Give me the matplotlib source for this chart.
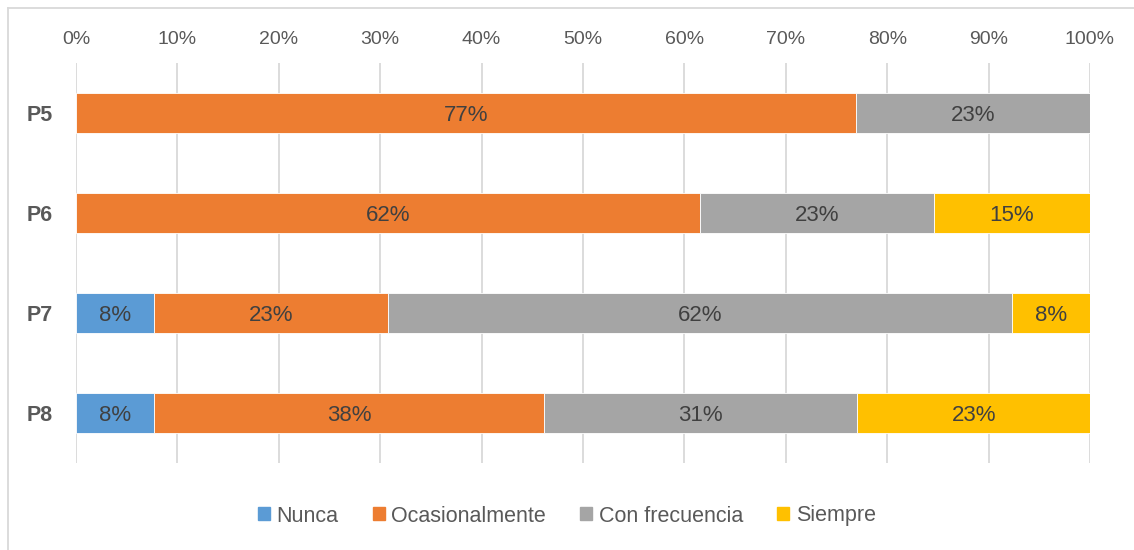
import matplotlib.pyplot as plt
from matplotlib.lines import Line2D

plt.rcParams['font.family'] = ['Liberation Sans', 'DejaVu Sans']

# datos (porcentaje de respuestas, 13 encuestados)
preguntas = ['P5', 'P6', 'P7', 'P8']
series = ['Nunca', 'Ocasionalmente', 'Con frecuencia', 'Siempre']
nunca = [0.0, 0.0, 7.7, 7.7]
ocasionalmente = [76.9, 61.5, 23.1, 38.5]
con_frecuencia = [23.1, 23.1, 61.5, 30.8]
siempre = [0.0, 15.4, 7.7, 23.1]
etiquetas = [['', '', '8%', '8%'],
             ['77%', '62%', '23%', '38%'],
             ['23%', '23%', '62%', '31%'],
             ['', '15%', '8%', '23%']]
ticks = [0, 10, 20, 30, 40, 50, 60, 70, 80, 90, 100]

colores = ['#5B9BD5', '#ED7D31', '#A5A5A5', '#FFC000']

fig = plt.figure(figsize=(11.34, 5.5), dpi=100)
ax = fig.add_axes([76/1134, 1-463/550, (1090-76)/1134, 400/550])

y = list(range(len(preguntas)))
izq = [0.0] * len(preguntas)
for k, vals in enumerate([nunca, ocasionalmente, con_frecuencia, siempre]):
    ax.barh(y, vals, left=izq, height=0.4, color=colores[k],
            edgecolor='white', linewidth=0.6, zorder=3)
    for i, v in enumerate(vals):
        if etiquetas[k][i]:
            ax.text(izq[i] + v/2, y[i], etiquetas[k][i], ha='center',
                    va='center_baseline', fontsize=16, color='#404040', zorder=4)
    izq = [a + b for a, b in zip(izq, vals)]

ax.set_xlim(0, 100)
ax.set_ylim(3.5, -0.5)
ax.set_xticks(ticks)
ax.set_xticklabels([f'{t}%' for t in ticks], fontsize=14, color='#595959')
ax.xaxis.tick_top()
ax.tick_params(axis='x', length=0, pad=11)
ax.set_yticks(y)
ax.set_yticklabels(preguntas, fontsize=15.5, fontweight='bold', color='#595959')
ax.tick_params(axis='y', length=0, pad=17)
ax.grid(axis='x', color='#D9D9D9', linewidth=1.3, zorder=0)
for s in ax.spines.values():
    s.set_visible(False)

handles = [plt.Rectangle((0, 0), 1, 1, color=c) for c in colores]
fig.legend(handles, series, loc='center', bbox_to_anchor=(0.5, 1-516/550),
           ncol=4, frameon=False, fontsize=15.5, handlelength=0.55, handleheight=0.55,
           handletextpad=0.3, columnspacing=1.6, labelcolor='#595959')

# borde del gráfico
fig.add_artist(Line2D([8/1134, 8/1134], [0, 1-8/550], color='#D9D9D9', linewidth=1.3))
fig.add_artist(Line2D([8/1134, 1], [1-8/550, 1-8/550], color='#D9D9D9', linewidth=1.3))

fig.savefig('out.png', dpi=100)
